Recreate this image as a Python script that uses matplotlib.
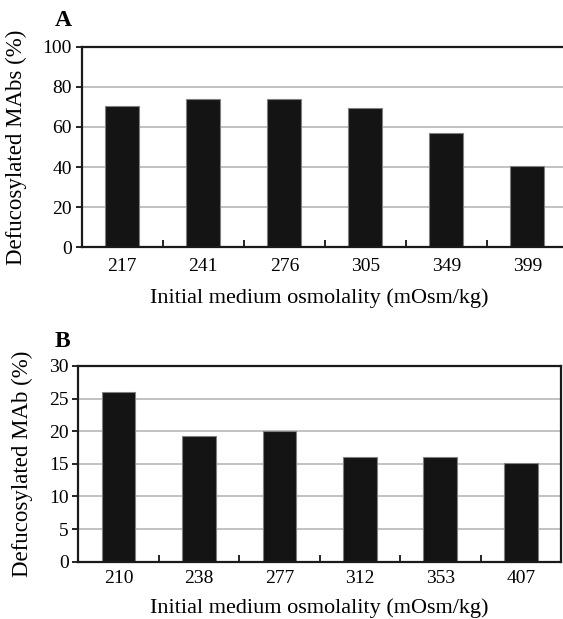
import matplotlib
matplotlib.use('Agg')
import matplotlib.pyplot as plt
import matplotlib.ticker as ticker

plt.rcParams['font.family'] = ['Liberation Serif', 'DejaVu Serif']

# Panel A data
osm_a = ['217', '241', '276', '305', '349', '399']
defuc_a = [70.4, 73.8, 73.8, 69.3, 56.8, 40.5]

# Panel B data
osm_b = ['210', '238', '277', '312', '353', '407']
defuc_b = [26.0, 19.2, 20.1, 16.0, 16.0, 15.1]

W, H = 563, 619
fig = plt.figure(figsize=(W / 100, H / 100), dpi=100)


def px_axes(left, top, right, bottom):
    return fig.add_axes([left / W, 1 - bottom / H, (right - left) / W, (bottom - top) / H])


def draw_panel(ax, cats, vals, ymax, ystep, ylabel, ylab_x, xlab_xy, xpad):
    x = range(len(cats))
    ax.set_axisbelow(True)
    ax.yaxis.grid(True, color='#bdbdbd', lw=1.3)
    ax.bar(x, vals, width=0.42, color='#141414', edgecolor='#808080', lw=0.8, zorder=2)
    ax.set_xlim(-0.5, len(cats) - 0.5)
    ax.set_ylim(0, ymax)
    ax.yaxis.set_major_locator(ticker.MultipleLocator(ystep))
    ax.set_xticks(list(x))
    ax.set_xticklabels(cats)
    ax.set_xticks([i + 0.5 for i in range(len(cats) - 1)], minor=True)
    ax.tick_params(axis='x', which='major', length=0, pad=xpad, labelsize=14)
    ax.tick_params(axis='x', which='minor', direction='in', length=5, width=1.2)
    ax.tick_params(axis='y', direction='out', length=4, width=1.2, pad=3, labelsize=14)
    for s in ax.spines.values():
        s.set_linewidth(1.6)
        s.set_color('#1a1a1a')
    ax.set_ylabel(ylabel, fontsize=16.5)
    ax.yaxis.set_label_coords(ylab_x, 0.5)
    ax.set_xlabel('Initial medium osmolality (mOsm/kg)', fontsize=16)
    ax.xaxis.set_label_coords(*xlab_xy)


ax_a = px_axes(81.7, 46.7, 568, 247.3)
draw_panel(ax_a, osm_a, defuc_a, 100, 20, 'Defucosylated MAbs (%)', -0.1125, (0.488, -0.205), 7.5)

ax_b = px_axes(78.3, 366, 561, 561.7)
draw_panel(ax_b, osm_b, defuc_b, 30, 5, 'Defucosylated MAb (%)', -0.094, (0.499, -0.185), 6)

fig.text(55 / W, 1 - 26 / H, 'A', fontsize=17, fontweight='bold', va='baseline')
fig.text(55 / W, 1 - 347 / H, 'B', fontsize=17, fontweight='bold', va='baseline')

fig.savefig('out.png', dpi=100)
